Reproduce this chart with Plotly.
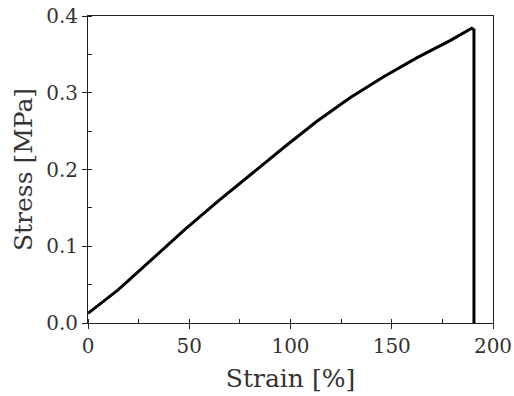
import plotly.graph_objects as go

# Data
strain = [0, 15, 31.4, 47.9, 64.4, 80.8, 97.3, 112.9, 129.4, 145.8, 162.3, 178.8, 189.5, 190.6, 190.6]
stress = [0.0126, 0.0435, 0.0825, 0.1219, 0.159, 0.195, 0.230, 0.2625, 0.2935, 0.3205, 0.3455, 0.368, 0.384, 0.382, 0.0]

x_ticks = [0, 50, 100, 150, 200]
y_ticks = [0.0, 0.1, 0.2, 0.3, 0.4]
y_tick_labels = ["0.0", "0.1", "0.2", "0.3", "0.4"]

font_family = "DejaVu Serif"

fig = go.Figure()
fig.add_trace(go.Scatter(
    x=strain, y=stress, mode="lines",
    line=dict(color="black", width=3),
    showlegend=False,
))

axis_common = dict(
    showline=True, linecolor="#222", linewidth=1, mirror=True,
    showgrid=False, zeroline=False, automargin=False,
    ticks="outside", ticklen=5, tickcolor="#222", tickwidth=1,
    tickfont=dict(family=font_family, size=20, color="#333"),
)

fig.update_layout(
    width=514, height=396,
    margin=dict(l=88, r=21, t=16, b=73),
    paper_bgcolor="white", plot_bgcolor="white",
    xaxis=dict(
        range=[0, 200], tickvals=x_ticks,
        minor=dict(ticks="inside", ticklen=4, tickcolor="#222", dtick=25, tick0=0),
        title=dict(text="Strain [%]", font=dict(family=font_family, size=25, color="#333"), standoff=12),
        **axis_common,
    ),
    yaxis=dict(
        range=[0, 0.4], tickvals=y_ticks, ticktext=y_tick_labels,
        minor=dict(ticks="inside", ticklen=4, tickcolor="#222", dtick=0.05, tick0=0),
        title=dict(text="Stress [MPa]", font=dict(family=font_family, size=25, color="#333"), standoff=6),
        **axis_common,
    ),
)

fig.write_html("out.html")
